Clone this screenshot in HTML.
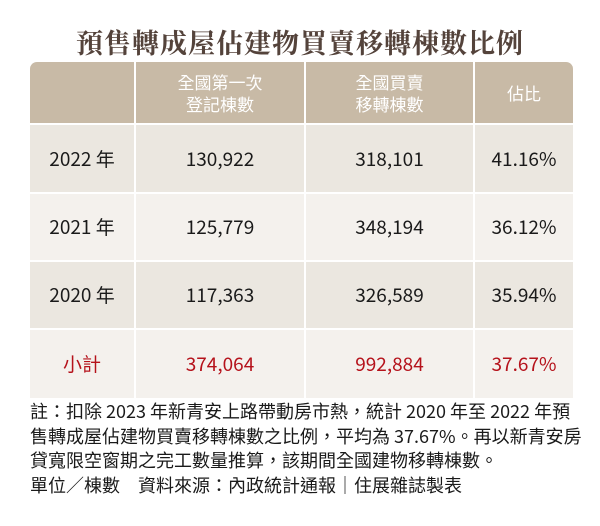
<!DOCTYPE html>
<html><head><meta charset="utf-8"><style>
body{margin:0;width:600px;height:526px;background:#fff;position:relative;overflow:hidden;font-family:"Noto Sans CJK TC","Liberation Sans",sans-serif}
.t{position:absolute;left:0;width:600px;top:24px;text-align:center;font-family:"Liberation Serif","Noto Serif CJK SC",serif;font-weight:bold;font-size:27px;color:#54433b;letter-spacing:1px;line-height:40px}
.c{position:absolute;display:flex;align-items:center;justify-content:center;text-align:center;font-size:19px;line-height:24px;color:#1a1a1a}
.h{background:#c8baa6;color:#fff;font-size:17px;line-height:22px}
.a{background:#ebe7e0}.b{background:#f4f1ed}
.r{color:#b5121b}
.n{position:absolute;left:30px;top:399px;font-size:18px;line-height:24.5px;color:#1a1a1a;width:560px;white-space:nowrap}
</style></head><body>
<div class="t">預售轉成屋佔建物買賣移轉棟數比例</div>
<div class="c h" style="left:30px;top:62px;width:104px;height:61px;border-radius:7px 0 0 0"></div>
<div class="c h" style="left:136px;top:62px;width:168px;height:61px">全國第一次<br>登記棟數</div>
<div class="c h" style="left:306px;top:62px;width:167px;height:61px">全國買賣<br>移轉棟數</div>
<div class="c h" style="left:475px;top:62px;width:98px;height:61px;border-radius:0 7px 0 0">佔比</div>

<div class="c a" style="left:30px;top:125px;width:104px;height:67px">2022 年</div>
<div class="c a" style="left:136px;top:125px;width:168px;height:67px">130,922</div>
<div class="c a" style="left:306px;top:125px;width:167px;height:67px">318,101</div>
<div class="c a" style="left:475px;top:125px;width:98px;height:67px">41.16%</div>

<div class="c b" style="left:30px;top:194px;width:104px;height:66px">2021 年</div>
<div class="c b" style="left:136px;top:194px;width:168px;height:66px">125,779</div>
<div class="c b" style="left:306px;top:194px;width:167px;height:66px">348,194</div>
<div class="c b" style="left:475px;top:194px;width:98px;height:66px">36.12%</div>

<div class="c a" style="left:30px;top:262px;width:104px;height:66px">2020 年</div>
<div class="c a" style="left:136px;top:262px;width:168px;height:66px">117,363</div>
<div class="c a" style="left:306px;top:262px;width:167px;height:66px">326,589</div>
<div class="c a" style="left:475px;top:262px;width:98px;height:66px">35.94%</div>

<div class="c b r" style="left:30px;top:330px;width:104px;height:68px">小計</div>
<div class="c b r" style="left:136px;top:330px;width:168px;height:68px">374,064</div>
<div class="c b r" style="left:306px;top:330px;width:167px;height:68px">992,884</div>
<div class="c b r" style="left:475px;top:330px;width:98px;height:68px">37.67%</div>

<div class="n">註：扣除 2023 年新青安上路帶動房市熱，統計 2020 年至 2022 年預<br>售轉成屋佔建物買賣移轉棟數之比例，平均為 37.67%。再以新青安房<br>貸寬限空窗期之完工數量推算，該期間全國建物移轉棟數。<br>單位／棟數　資料來源：內政統計通報｜住展雜誌製表</div>
</body></html>
